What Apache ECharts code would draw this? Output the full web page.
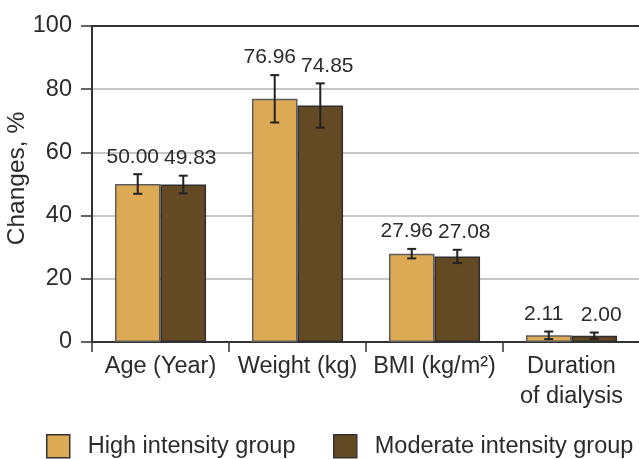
<!DOCTYPE html>
<html>
<head>
<meta charset="utf-8">
<script src="https://cdn.jsdelivr.net/npm/echarts@6/dist/echarts.min.js"></script>
<style>
  html, body { margin: 0; padding: 0; background: #fff; }
  #chart { width: 639px; height: 459px; }
</style>
</head>
<body>
<div id="chart"></div>
<script>
// Measured outcomes for the two training groups
const categories = ['Age (Year)', 'Weight (kg)', 'BMI (kg/m²)', 'Duration\nof dialysis'];
const seriesNames = ['High intensity group', 'Moderate intensity group'];
const highValues = [50.00, 76.96, 27.96, 2.11];
const moderateValues = [49.83, 74.85, 27.08, 2.00];
// Half-length of each error bar
const highErrors = [3.1, 7.5, 1.5, 1.2];
const moderateErrors = [2.8, 7.0, 2.1, 1.0];
const yTicks = [0, 20, 40, 60, 80, 100];

const FONT = "'Liberation Sans', Arial, sans-serif";
const TEXT = '#2b2b2b';
const AXIS = '#333';
const CAT_GAP = 0.335;

// Error bars plus the value label sitting above each bar's whisker
function errorSeries(name, values, errors, side, labelShift) {
  return {
    type: 'custom',
    name: name + ' error',
    z: 10,
    clip: false,
    encode: { x: 0, y: 1 },
    data: values.map((v, i) => [i, v, errors[i]]),
    renderItem: function (params, api) {
      const idx = api.value(0);
      const v = api.value(1);
      const e = api.value(2);
      const band = api.size([1, 0])[0];
      const barW = band * (1 - CAT_GAP) / 2;
      const center = api.coord([idx, 0])[0] + side * barW / 2;
      const top = api.coord([idx, v + e])[1];
      const bottom = api.coord([idx, v - e])[1];
      const cap = 4.5;
      const ls = { stroke: '#222', lineWidth: 2 };
      return {
        type: 'group',
        children: [
          { type: 'line', shape: { x1: center, y1: top, x2: center, y2: bottom }, style: ls },
          { type: 'line', shape: { x1: center - cap, y1: top, x2: center + cap, y2: top }, style: ls },
          { type: 'line', shape: { x1: center - cap, y1: bottom, x2: center + cap, y2: bottom }, style: ls },
          {
            type: 'text',
            style: {
              text: v.toFixed(2),
              x: center + labelShift,
              y: top - 7,
              align: 'center',
              verticalAlign: 'bottom',
              fontSize: 21,
              fontFamily: FONT,
              fill: TEXT
            }
          }
        ]
      };
    }
  };
}

// One legend block per group so both items stay on a single row
function legendBlock(name, left) {
  return {
    data: [name],
    left: left,
    top: 434,
    padding: 0,
    itemWidth: 23,
    itemHeight: 23,
    icon: 'rect',
    itemStyle: { borderColor: '#333', borderWidth: 1.5 },
    textStyle: { fontSize: 23.5, color: TEXT, fontFamily: FONT, padding: [0, 0, 0, 13] }
  };
}

const chart = echarts.init(document.getElementById('chart'), null, { renderer: 'canvas' });

chart.setOption({
  animation: false,
  textStyle: { fontFamily: FONT },
  grid: { left: 92, right: -1, top: 26, bottom: 117, containLabel: false, outerBoundsMode: 'none' },
  legend: [legendBlock(seriesNames[0], 46), legendBlock(seriesNames[1], 333)],
  xAxis: [
    {
      type: 'category',
      data: categories,
      axisLine: { lineStyle: { color: AXIS, width: 2 } },
      axisTick: { show: true, length: 10, interval: 0, lineStyle: { color: AXIS, width: 1.5 } },
      axisLabel: { fontSize: 23.5, color: TEXT, fontFamily: FONT, margin: 10, lineHeight: 30, interval: 0 }
    },
    {
      type: 'category',
      position: 'top',
      data: categories,
      axisLine: { lineStyle: { color: AXIS, width: 2 } },
      axisTick: { show: false },
      axisLabel: { show: false }
    }
  ],
  yAxis: {
    type: 'value',
    min: yTicks[0],
    max: yTicks[yTicks.length - 1],
    interval: yTicks[1] - yTicks[0],
    name: 'Changes, %',
    nameLocation: 'middle',
    nameGap: 62,
    nameMoveOverlap: false,
    nameTextStyle: { fontSize: 24.5, color: TEXT, fontFamily: FONT, padding: [0, 0, 0, 11] },
    axisLine: { show: true, lineStyle: { color: AXIS, width: 2 } },
    axisTick: { show: true, length: 11, lineStyle: { color: AXIS, width: 1.5 } },
    axisLabel: { fontSize: 23.5, color: TEXT, fontFamily: FONT, margin: 20 },
    splitLine: { show: true, lineStyle: { color: '#b5b5b5', width: 1.5 } }
  },
  series: [
    {
      type: 'bar',
      name: seriesNames[0],
      data: highValues,
      barGap: '0%',
      barCategoryGap: (CAT_GAP * 100) + '%',
      itemStyle: { color: '#DCAA55', borderColor: '#5c5c5c', borderWidth: 1.5 }
    },
    {
      type: 'bar',
      name: seriesNames[1],
      data: moderateValues,
      barGap: '0%',
      barCategoryGap: (CAT_GAP * 100) + '%',
      itemStyle: { color: '#634A25', borderColor: '#2e2e2e', borderWidth: 1.5 }
    },
    errorSeries(seriesNames[0], highValues, highErrors, -1, -5),
    errorSeries(seriesNames[1], moderateValues, moderateErrors, 1, 7)
  ]
});
</script>
</body>
</html>
